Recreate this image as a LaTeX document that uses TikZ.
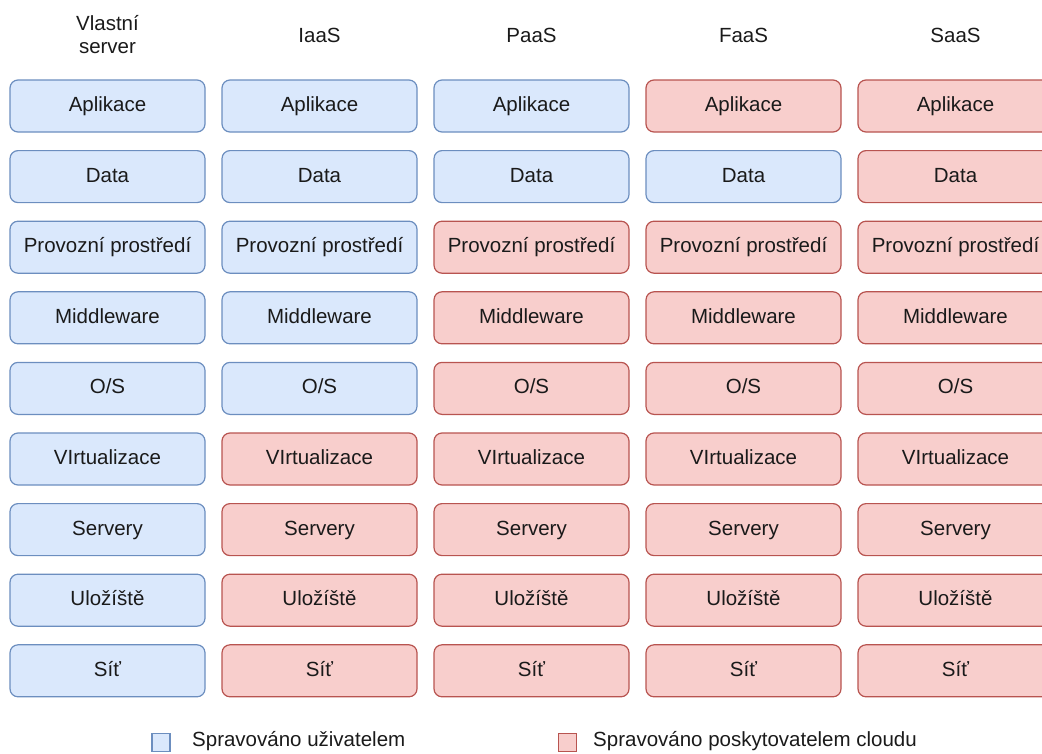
\documentclass[tikz,border=0pt]{standalone}
\usepackage{fontspec}
\setmainfont{Liberation Sans}
\definecolor{ublue}{HTML}{DAE8FC}
\definecolor{ubluel}{HTML}{6C8EBF}
\definecolor{cred}{HTML}{F8CECC}
\definecolor{credl}{HTML}{B85450}
\definecolor{txt}{HTML}{1A1A1A}
\tikzset{
  layer/.style={rounded corners=8pt, minimum width=195pt, minimum height=52pt,
    line width=1.2pt, inner sep=0pt, text=txt, font=\fontsize{20.5}{24}\selectfont,
    text height=15pt, text depth=4pt},
  userbox/.style={layer, draw=ubluel, fill=ublue},
  cloudbox/.style={layer, draw=credl, fill=cred},
  header/.style={text=txt, font=\fontsize{20.5}{24}\selectfont, align=center, inner sep=0pt},
  legbox/.style={minimum size=18pt, inner sep=0pt, line width=1.1pt},
  legtext/.style={text=txt, font=\fontsize{20.5}{24}\selectfont, anchor=west, inner sep=0pt}
}
\begin{document}
\begin{tikzpicture}[x=1pt,y=-1pt]
\useasboundingbox (0,0) rectangle (1042,753);
\clip (0,0) rectangle (1042,753);
% headers
\node[header] (h0) at (107.5,35) {Vlastní\\[-1pt]server};
\node[header] (h1) at (319.5,35) {IaaS};
\node[header] (h2) at (531.5,35) {PaaS};
\node[header] (h3) at (743.5,35) {FaaS};
\node[header] (h4) at (955.5,35) {SaaS};
% layers
\foreach \r/\lab in {0/Aplikace,1/Data,2/{Provozní prostředí},3/Middleware,4/{O/S},5/VIrtualizace,6/Servery,7/Uložíště,8/Síť}{
  \pgfmathsetmacro{\yy}{106+70.6*\r}
  % column 0: all user
  \node[userbox] (c0r\r) at (107.5,\yy) {\lab};
  % column 1: rows 0-4 user
  \ifnum\r<5 \node[userbox] (c1r\r) at (319.5,\yy) {\lab};
  \else \node[cloudbox] (c1r\r) at (319.5,\yy) {\lab}; \fi
  % column 2: rows 0-1 user
  \ifnum\r<2 \node[userbox] (c2r\r) at (531.5,\yy) {\lab};
  \else \node[cloudbox] (c2r\r) at (531.5,\yy) {\lab}; \fi
  % column 3: only row 1 user
  \ifnum\r=1 \node[userbox] (c3r\r) at (743.5,\yy) {\lab};
  \else \node[cloudbox] (c3r\r) at (743.5,\yy) {\lab}; \fi
  % column 4: all cloud
  \node[cloudbox] (c4r\r) at (955.5,\yy) {\lab};
}
% legend
\node[legbox, draw=ubluel, fill=ublue] (lb) at (161,742.5) {};
\node[legtext] (lbt) at (192,741) {Spravováno uživatelem};
\node[legbox, draw=credl, fill=cred] (lr) at (567.5,742.5) {};
\node[legtext] (lrt) at (593,741) {Spravováno poskytovatelem cloudu};
\end{tikzpicture}
\end{document}
